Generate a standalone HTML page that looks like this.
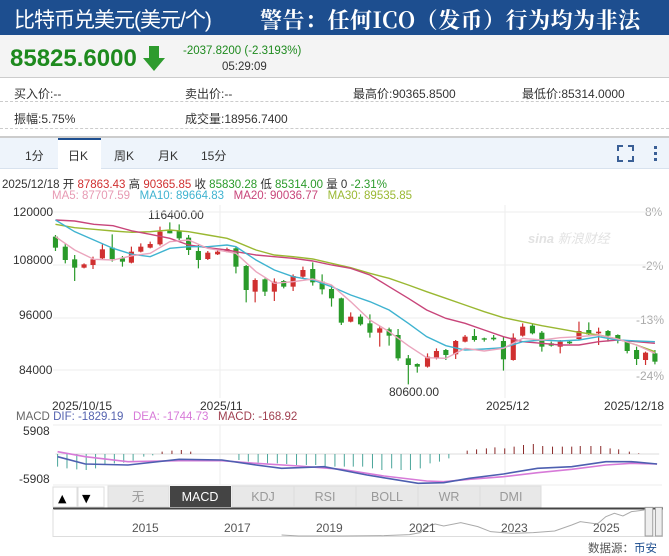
<!DOCTYPE html>
<html><head><meta charset="utf-8"><style>
*{margin:0;padding:0;box-sizing:border-box}
body{width:669px;height:554px;overflow:hidden;background:#fff;font-family:"Liberation Sans","Noto Sans CJK SC",sans-serif;position:relative;color:#333}
.a{position:absolute;white-space:nowrap}
</style></head><body>
<div class="a" style="left:0;top:0;width:669px;height:35px;background:#1d4e8f"></div>
<div class="a" style="left:14px;top:4px;font-size:21px;color:#fff;letter-spacing:-1px">比特币兑美元(美元/个)</div>
<div class="a" style="left:260px;top:4px;font-size:22px;color:#fff;font-weight:bold;letter-spacing:0.5px;font-family:'Noto Serif CJK SC','Noto Sans CJK SC',serif">警告：任何ICO（发币）行为均为非法</div>
<div class="a" style="left:0;top:35px;width:669px;height:43px;background:#f4f4f4;border-bottom:1px solid #ccc"></div>
<div class="a" style="left:10px;top:45px;font-size:24px;font-weight:bold;color:#1e8a1e">85825.6000</div>
<svg class="a" style="left:141px;top:44px" width="26" height="30"><polygon points="8,2 18,2 18,14 24,14 13,27 2,14 8,14" fill="#2e9b2e"/></svg>
<div class="a" style="left:183px;top:45px;font-size:11.5px;color:#1e8a1e">-2037.8200 (-2.3193%)</div>
<div class="a" style="left:222px;top:61px;font-size:11.5px;color:#333">05:29:09</div>
<div class="a" style="left:14px;top:85px;font-size:12px">买入价:--</div>
<div class="a" style="left:185px;top:85px;font-size:12px">卖出价:--</div>
<div class="a" style="left:353px;top:85px;font-size:12px">最高价:90365.8500</div>
<div class="a" style="left:522px;top:85px;font-size:12px">最低价:85314.0000</div>
<div class="a" style="left:0;top:101px;width:669px;border-top:1px dashed #ccc"></div>
<div class="a" style="left:14px;top:110px;font-size:12px">振幅:5.75%</div>
<div class="a" style="left:185px;top:110px;font-size:12px">成交量:18956.7400</div>
<div class="a" style="left:0;top:128px;width:669px;border-top:1px dashed #ccc"></div>
<div class="a" style="left:0;top:136px;width:669px;height:33px;background:#eef4fb;border-top:2px solid #ccc;border-bottom:1px solid #d8e2ee"></div>
<div class="a" style="left:58px;top:138px;width:43px;height:31px;background:#fff;border-top:2px solid #1d4e8f"></div>
<div class="a" style="left:25px;top:147px;font-size:12px">1分</div>
<div class="a" style="left:68px;top:147px;font-size:12px">日K</div>
<div class="a" style="left:114px;top:147px;font-size:12px">周K</div>
<div class="a" style="left:158px;top:147px;font-size:12px">月K</div>
<div class="a" style="left:201px;top:147px;font-size:12px">15分</div>
<svg class="a" style="left:615px;top:143px" width="50" height="20"><path d="M3 8V3h5M13 3h5v5M18 13v5h-5M8 18H3v-5" stroke="#3a5f96" stroke-width="2" fill="none"/><rect x="39" y="3" width="3" height="3" fill="#3a5f96"/><rect x="39" y="9" width="3" height="3" fill="#3a5f96"/><rect x="39" y="15" width="3" height="3" fill="#3a5f96"/></svg>
<div class="a" style="left:2px;top:176px;font-size:11.5px;color:#333">2025/12/18 开 <span style="color:#d03030">87863.43</span> 高 <span style="color:#d03030">90365.85</span> 收 <span style="color:#2a9a2a">85830.28</span> 低 <span style="color:#2a9a2a">85314.00</span> 量 0 <span style="color:#2a9a2a">-2.31%</span></div>
<div class="a" style="left:52px;top:190px;font-size:11.5px"><span style="color:#e79ab3">MA5: 87707.59</span>&nbsp;&nbsp; <span style="color:#3fb3d0">MA10: 89664.83</span>&nbsp;&nbsp; <span style="color:#c8457a">MA20: 90036.77</span>&nbsp;&nbsp; <span style="color:#9ab832">MA30: 89535.85</span></div>
<div class="a" style="left:13px;top:205px;font-size:12px">120000</div>
<div class="a" style="left:13px;top:253px;font-size:12px">108000</div>
<div class="a" style="left:19px;top:308px;font-size:12px">96000</div>
<div class="a" style="left:19px;top:363px;font-size:12px">84000</div>
<div class="a" style="left:645px;top:205px;font-size:12px;color:#aaa">8%</div>
<div class="a" style="left:642px;top:259px;font-size:12px;color:#aaa">-2%</div>
<div class="a" style="left:636px;top:313px;font-size:12px;color:#aaa">-13%</div>
<div class="a" style="left:636px;top:369px;font-size:12px;color:#aaa">-24%</div>
<div class="a" style="left:148px;top:208px;font-size:12px">116400.00</div>
<div class="a" style="left:389px;top:385px;font-size:12px">80600.00</div>
<div class="a" style="left:528px;top:228px;font-size:13px;color:#e2e2e2;font-style:italic;font-weight:bold">sina <span style="font-weight:normal">新浪财经</span></div>
<div class="a" style="left:52px;top:399px;font-size:12px">2025/10/15</div>
<div class="a" style="left:200px;top:399px;font-size:12px">2025/11</div>
<div class="a" style="left:486px;top:399px;font-size:12px">2025/12</div>
<div class="a" style="left:604px;top:399px;font-size:12px">2025/12/18</div>
<div class="a" style="left:16px;top:411px;font-size:11.5px;color:#666">MACD <span style="color:#5563b0">DIF: -1829.19</span>&nbsp;&nbsp; <span style="color:#d77ad8">DEA: -1744.73</span>&nbsp;&nbsp; <span style="color:#a04050">MACD: -168.92</span></div>
<div class="a" style="left:23px;top:424px;font-size:12px">5908</div>
<div class="a" style="left:19px;top:472px;font-size:12px">-5908</div>
<svg class="a" style="left:0;top:0" width="669" height="554">
<g stroke="#eee" stroke-width="1">
<line x1="53" y1="212" x2="662" y2="212"/><line x1="53" y1="265" x2="662" y2="265"/><line x1="53" y1="318" x2="662" y2="318"/><line x1="53" y1="370" x2="662" y2="370"/>
<line x1="220" y1="205" x2="220" y2="398"/><line x1="505" y1="205" x2="505" y2="398"/>
<line x1="53" y1="425" x2="662" y2="425"/><line x1="53" y1="485" x2="662" y2="485"/>
<line x1="220" y1="425" x2="220" y2="485"/><line x1="505" y1="425" x2="505" y2="485"/>
</g>
<g transform="translate(0,195) scale(0.42666,0.33333)" stroke-width="1.2">
<g id="c" fill="none">
<path vector-effect="non-scaling-stroke" stroke="#2a9a2a" d="M130 120V168M153 145V205M175 180V258M263 118V200M287 183V215M398 82V115M420 88V135M442 120V180M465 150V220M553 155V235M577 210V322M621 250V303M665 255V280M733 202V272M755 238V298M777 270V335M800 308V390M845 358V392M867 358V428M912 398V452M933 402V497M957 480V568M978 505V533M1045 462V495M1112 402V440M1135 428V440M1157 420V437M1180 425V527M1248 385V418M1270 408V470M1292 440V455M1335 435V447M1380 382V420M1425 405V440M1448 418V445M1470 435V475M1492 455V510M1535 465V508"/>
<path vector-effect="non-scaling-stroke" stroke="#d03030" d="M197 205V220M218 185V222M240 148V195M308 155V205M330 145V172M352 140V160M375 95V152M487 168V195M510 165V180M532 158V172M598 250V322M643 250V318M687 238V288M710 215V250M822 352V382M890 392V455M1002 475V518M1023 460V493M1068 435V492M1090 420V442M1203 415V497M1225 385V425M1313 435V475M1357 380V435M1403 398V450M1513 470V510"/>
</g>
<g fill="#2a9a2a">
<rect x="124" y="125" width="12" height="33"/><rect x="147" y="155" width="12" height="40"/><rect x="169" y="193" width="12" height="25"/><rect x="257" y="158" width="12" height="34"/><rect x="281" y="190" width="12" height="10"/><rect x="392" y="105" width="12" height="10"/><rect x="414" y="108" width="12" height="22"/><rect x="436" y="128" width="12" height="37"/><rect x="459" y="168" width="12" height="27"/><rect x="547" y="160" width="12" height="55"/><rect x="571" y="213" width="12" height="72"/><rect x="615" y="253" width="12" height="37"/><rect x="659" y="258" width="12" height="17"/><rect x="727" y="222" width="12" height="40"/><rect x="749" y="260" width="12" height="23"/><rect x="771" y="282" width="12" height="28"/><rect x="794" y="310" width="12" height="73"/><rect x="839" y="365" width="12" height="23"/><rect x="861" y="385" width="12" height="28"/><rect x="906" y="403" width="12" height="19"/><rect x="927" y="420" width="12" height="70"/><rect x="951" y="490" width="12" height="20"/><rect x="972" y="507" width="12" height="8"/><rect x="1039" y="465" width="12" height="15"/><rect x="1106" y="423" width="12" height="12"/><rect x="1129" y="430" width="12" height="4"/><rect x="1151" y="428" width="12" height="5"/><rect x="1174" y="438" width="12" height="55"/><rect x="1242" y="392" width="12" height="23"/><rect x="1264" y="413" width="12" height="42"/><rect x="1286" y="445" width="12" height="7"/><rect x="1329" y="440" width="12" height="5"/><rect x="1374" y="405" width="12" height="13"/><rect x="1419" y="408" width="12" height="14"/><rect x="1442" y="420" width="12" height="15"/><rect x="1464" y="440" width="12" height="28"/><rect x="1486" y="465" width="12" height="27"/><rect x="1529" y="475" width="12" height="25"/>
</g>
<g fill="#d03030">
<rect x="191" y="208" width="12" height="10"/><rect x="212" y="193" width="12" height="17"/><rect x="234" y="163" width="12" height="27"/><rect x="302" y="170" width="12" height="33"/><rect x="324" y="155" width="12" height="15"/><rect x="346" y="147" width="12" height="11"/><rect x="369" y="110" width="12" height="38"/><rect x="481" y="173" width="12" height="19"/><rect x="504" y="170" width="12" height="8"/><rect x="526" y="162" width="12" height="8"/><rect x="592" y="255" width="12" height="35"/><rect x="637" y="260" width="12" height="30"/><rect x="681" y="243" width="12" height="32"/><rect x="704" y="225" width="12" height="20"/><rect x="816" y="365" width="12" height="15"/><rect x="884" y="400" width="12" height="13"/><rect x="996" y="485" width="12" height="30"/><rect x="1017" y="468" width="12" height="22"/><rect x="1062" y="438" width="12" height="40"/><rect x="1084" y="425" width="12" height="15"/><rect x="1197" y="428" width="12" height="67"/><rect x="1219" y="395" width="12" height="27"/><rect x="1307" y="440" width="12" height="15"/><rect x="1351" y="408" width="12" height="24"/><rect x="1397" y="410" width="12" height="5"/><rect x="1507" y="473" width="12" height="22"/>
</g>
<g fill="none" stroke-width="1.4">
<polyline vector-effect="non-scaling-stroke" stroke="#9ab832" points="130,88 175,98 220,103 265,108 310,112 352,110 398,105 442,110 487,120 532,130 553,140 600,165 643,180 687,185 733,192 777,205 822,218 867,235 912,250 957,270 1000,290 1045,310 1090,330 1135,350 1180,368 1225,380 1270,392 1313,402 1357,412 1403,420 1448,432 1492,450 1535,470"/>
<polyline vector-effect="non-scaling-stroke" stroke="#c8457a" points="130,75 175,78 220,88 265,92 310,108 352,118 398,130 442,150 487,158 532,165 553,170 600,180 643,185 687,190 733,198 777,210 822,220 867,240 912,275 957,310 1000,345 1045,370 1090,385 1135,405 1180,425 1225,440 1270,445 1313,450 1357,450 1403,440 1448,435 1492,440 1535,445"/>
<polyline vector-effect="non-scaling-stroke" stroke="#3fb3d0" points="130,75 175,110 220,135 265,160 310,178 352,185 398,160 442,155 487,155 532,150 553,155 600,195 643,225 687,245 733,255 777,275 822,300 867,320 912,345 957,385 1000,425 1045,452 1090,465 1135,462 1180,458 1225,440 1270,435 1313,438 1357,435 1403,425 1448,435 1492,438 1535,440"/>
<polyline vector-effect="non-scaling-stroke" stroke="#eba5bd" points="130,125 175,165 220,193 265,195 310,182 352,175 398,140 442,135 487,160 532,170 553,175 600,230 643,265 687,260 733,252 777,270 822,320 867,375 912,410 957,452 1000,488 1045,490 1090,460 1135,468 1180,460 1225,430 1270,435 1313,428 1357,425 1403,420 1448,432 1492,450 1535,475"/>
</g>
</g>
<g transform="translate(0,400) scale(0.42666,0.33333)">
<line x1="130" y1="162" x2="1545" y2="162" stroke="#ddd" vector-effect="non-scaling-stroke"/>
<path vector-effect="non-scaling-stroke" stroke="#4aa59a" stroke-width="1" d="M135 162V200M157 162V205M180 162V208M202 162V210M224 162V205M246 162V192M268 162V190M290 162V188M312 162V182M337 162V170M358 162V166M560 162V180M582 162V185M605 162V188M627 162V190M650 162V190M672 162V192M695 162V195M718 162V195M740 162V195M762 162V200M785 162V200M807 162V200M828 162V200M850 162V200M873 162V205M895 162V210M918 162V205M940 162V210M962 162V210M985 162V205M1008 162V190M1030 162V185M1052 162V175"/>
<path vector-effect="non-scaling-stroke" stroke="#8a2a2a" stroke-width="1" d="M380 162V155M403 162V152M425 162V150M447 162V155M1095 162V152M1117 162V148M1140 162V145M1160 162V142M1183 162V145M1205 162V140M1227 162V135M1250 162V132M1272 162V138M1295 162V140M1318 162V140M1340 162V140M1360 162V138M1385 162V138M1408 162V138M1430 162V145M1450 162V148M1475 162V155M1497 162V160"/>
<polyline vector-effect="non-scaling-stroke" fill="none" stroke="#d77ad8" stroke-width="1.6" points="135,155 200,170 300,185 420,182 520,182 600,190 700,198 800,208 900,228 1000,243 1040,245 1100,238 1180,230 1260,218 1340,208 1420,195 1480,190 1540,192"/>
<polyline vector-effect="non-scaling-stroke" fill="none" stroke="#4d5fb0" stroke-width="1.6" points="135,170 200,192 300,195 420,178 520,180 600,195 660,205 760,200 860,225 980,250 1040,248 1100,235 1180,222 1260,205 1340,200 1420,185 1480,185 1540,192"/>
</g>
<rect x="53" y="487" width="24" height="20" fill="#fff" stroke="#ddd"/>
<rect x="78" y="487" width="26" height="20" fill="#fff" stroke="#ddd"/>
<text x="58" y="502" font-size="11" font-family="DejaVu Sans">▲</text>
<text x="82" y="502" font-size="11" font-family="DejaVu Sans">▼</text>
<g fill="#e8e8e8" stroke="#ddd"><rect x="108" y="486" width="61" height="21"/><rect x="232" y="486" width="62" height="21"/><rect x="294" y="486" width="62" height="21"/><rect x="356" y="486" width="62" height="21"/><rect x="418" y="486" width="62" height="21"/><rect x="480" y="486" width="61" height="21"/></g>
<rect x="170" y="486" width="61" height="21" fill="#444"/>
<g font-size="12.5" text-anchor="middle" fill="#999" font-family="Liberation Sans,Noto Sans CJK SC,sans-serif"><text x="138" y="501">无</text><text x="200" y="501" fill="#fff">MACD</text><text x="263" y="501">KDJ</text><text x="325" y="501">RSI</text><text x="387" y="501">BOLL</text><text x="449" y="501">WR</text><text x="511" y="501">DMI</text></g>
<line x1="53" y1="508.5" x2="663" y2="508.5" stroke="#444" stroke-width="2"/>
<line x1="53" y1="509" x2="53" y2="537" stroke="#ddd"/>
<line x1="53" y1="536.5" x2="663" y2="536.5" stroke="#ddd"/>
<g transform="translate(0,400) scale(0.42666,0.33333)">
<polyline vector-effect="non-scaling-stroke" fill="none" stroke="#aaa" points="660,405 700,408 800,408 900,407 960,404 985,398 1000,380 1020,372 1040,378 1080,368 1120,380 1150,395 1200,400 1250,398 1300,393 1340,375 1360,365 1400,372 1420,350 1440,340 1460,348 1480,335 1510,330"/>
<rect x="1512" y="322" width="18" height="86" fill="#eee" stroke="#999" vector-effect="non-scaling-stroke"/>
<rect x="1536" y="322" width="16" height="86" fill="#eee" stroke="#999" vector-effect="non-scaling-stroke"/>
</g>
<g font-size="12" fill="#555" font-family="Liberation Sans,sans-serif"><text x="132" y="532">2015</text><text x="224" y="532">2017</text><text x="316" y="532">2019</text><text x="409" y="532">2021</text><text x="501" y="532">2023</text><text x="593" y="532">2025</text></g>
</svg>
<div class="a" style="left:588px;top:540px;font-size:11.5px;color:#555">数据源：<span style="color:#1d4e8f">币安</span></div>
</body></html>
